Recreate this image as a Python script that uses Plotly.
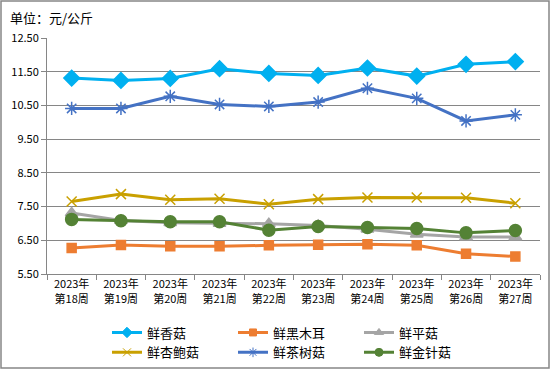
import plotly.graph_objects as go

weeks = ["2023年<br>第18周", "2023年<br>第19周", "2023年<br>第20周", "2023年<br>第21周", "2023年<br>第22周",
         "2023年<br>第23周", "2023年<br>第24周", "2023年<br>第25周", "2023年<br>第26周", "2023年<br>第27周"]

xianggu = [11.31, 11.24, 11.30, 11.59, 11.45, 11.39, 11.61, 11.37, 11.72, 11.80]
heimuer = [6.27, 6.36, 6.32, 6.32, 6.35, 6.37, 6.38, 6.35, 6.10, 6.02]
pinggu = [7.31, 7.09, 7.02, 7.00, 6.99, 6.94, 6.83, 6.68, 6.60, 6.60]
xingbaogu = [7.65, 7.87, 7.70, 7.73, 7.57, 7.72, 7.77, 7.77, 7.76, 7.60]
chashugu = [10.41, 10.41, 10.77, 10.53, 10.47, 10.60, 11.01, 10.71, 10.04, 10.22]
jinzhengu = [7.12, 7.08, 7.05, 7.05, 6.80, 6.91, 6.88, 6.85, 6.72, 6.79]

y_ticks = [5.5, 6.5, 7.5, 8.5, 9.5, 10.5, 11.5, 12.5]

series = [
    ("鲜香菇", xianggu, "#00B0F0", "diamond", 12, 8),
    ("鲜黑木耳", heimuer, "#ED7D31", "square", 9, 7),
    ("鲜平菇", pinggu, "#A5A5A5", "triangle-up", 11, 8),
    ("鲜杏鲍菇", xingbaogu, "#C9A000", "x-thin-open", 10, 8),
    ("鲜茶树菇", chashugu, "#4472C4", "asterisk-open", 11, 8),
    ("鲜金针菇", jinzhengu, "#548235", "circle", 12, 8),
]

font_family = "Noto Sans CJK SC, sans-serif"

fig = go.Figure()
for name, vals, color, sym, size, lsize in series:
    fig.add_trace(go.Scatter(
        x=weeks, y=vals, name=name, mode="lines+markers", showlegend=False,
        line=dict(color=color, width=3),
        marker=dict(symbol=sym, size=size, color=color,
                    line=dict(color=color, width=1.5)),
    ))
for name, vals, color, sym, size, lsize in series:
    fig.add_trace(go.Scatter(
        x=[None], y=[None], name=name, mode="lines+markers", showlegend=True,
        line=dict(color=color, width=3),
        marker=dict(symbol=sym, size=lsize, color=color,
                    line=dict(color=color, width=1)),
    ))

fig.update_layout(
    width=550, height=370,
    margin=dict(l=47, r=10, t=38, b=96, autoexpand=False),
    paper_bgcolor="white", plot_bgcolor="white",
    font=dict(family=font_family, size=11, color="#000000"),
    showlegend=True,
    legend=dict(orientation="h", x=(107 - 47) / 493, y=(274 - 317.5) / 236,
                xanchor="left", yanchor="top",
                font=dict(size=13, family=font_family),
                entrywidth=81, entrywidthmode="pixels",
                itemwidth=30, tracegroupgap=0, bgcolor="rgba(0,0,0,0)"),
    xaxis=dict(type="category", showgrid=False, showline=True, linecolor="#868686",
               linewidth=1, ticks="outside", tickson="boundaries", ticklen=5,
               tickcolor="#868686", tickfont=dict(size=11), range=[-0.5, 9.5]),
    yaxis=dict(range=[5.5, 12.5], tickvals=y_ticks, ticktext=[f"{v:.2f}" for v in y_ticks],
               showgrid=True, gridcolor="#868686", gridwidth=1, showline=True,
               linecolor="#868686", linewidth=1, ticks="outside", ticklen=5,
               tickcolor="#868686", tickfont=dict(size=11), zeroline=False),
)

fig.add_annotation(text="单位：元/公斤", xref="paper", yref="paper",
                   x=(8 - 47) / 493, y=(274 - 17) / 236, xanchor="left", yanchor="middle",
                   showarrow=False, font=dict(size=13, family=font_family))

fig.add_shape(type="rect", xref="paper", yref="paper",
              x0=(1 - 47) / 493, x1=(549 - 47) / 493,
              y0=(274 - 368) / 236, y1=(274 - 1) / 236,
              line=dict(color="#868686", width=1.5), fillcolor="rgba(0,0,0,0)", layer="below")

fig.write_html("out.html", config={"displayModeBar": False},
               post_script="document.body.style.margin='0';")
